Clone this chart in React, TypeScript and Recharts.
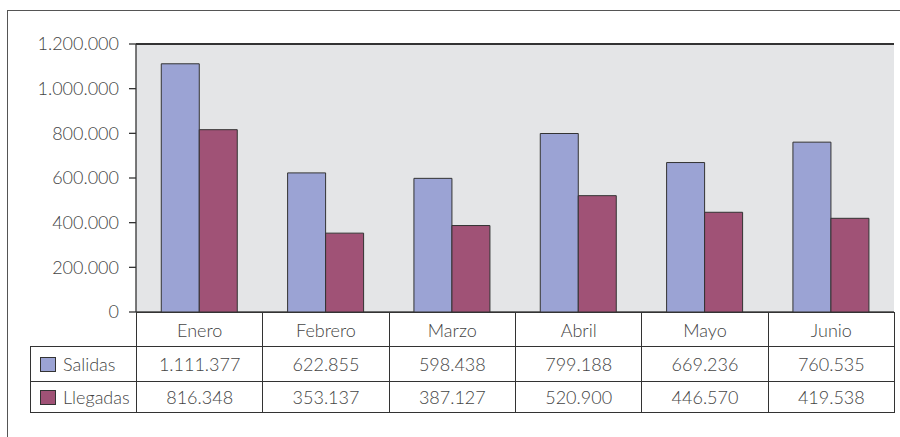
import { Bar, BarChart, CartesianGrid, XAxis, YAxis } from 'recharts'

const meses = ['Enero', 'Febrero', 'Marzo', 'Abril', 'Mayo', 'Junio']
const salidas = [1111377, 622855, 598438, 799188, 669236, 760535]
const llegadas = [816348, 353137, 387127, 520900, 446570, 419538]
const yTicks = [0, 200000, 400000, 600000, 800000, 1000000, 1200000]

const series = [
  { key: 'salidas', label: 'Salidas', color: '#9BA3D4', values: salidas },
  { key: 'llegadas', label: 'Llegadas', color: '#A05276', values: llegadas },
]

const fmt = (v: number) => String(Math.round(v)).replace(/\B(?=(\d{3})+(?!\d))/g, '.')

const FONT = 'Lato, "Open Sans", sans-serif'
const FONT_SIZE = 18
const FONT_WEIGHT = 300
const TEXT = '#444'
const LINE = '#333'

// plot area in page pixels
const PLOT_L = 136
const PLOT_R = 894
const PLOT_T = 44
const PLOT_B = 312
const COL_W = (PLOT_R - PLOT_L) / meses.length
const ROW_TOPS = [312, 346, 381, 412]

export default function App() {
  const data = meses.map((mes, i) => ({ mes, salidas: salidas[i], llegadas: llegadas[i] }))

  const cell = (left: number, top: number, width: number, height: number, extra = {}) => ({
    position: 'absolute' as const,
    left,
    top,
    width,
    height,
    boxSizing: 'border-box' as const,
    display: 'flex',
    alignItems: 'center',
    justifyContent: 'center',
    fontFamily: FONT,
    fontSize: FONT_SIZE,
    fontWeight: FONT_WEIGHT,
    color: TEXT,
    ...extra,
  })

  return (
    <div
      style={{
        position: 'fixed',
        left: 0,
        top: 0,
        width: 900,
        height: 437,
        overflow: 'hidden',
        background: '#fff',
      }}
    >
      <div
        style={{
          position: 'absolute',
          left: 7,
          top: 10,
          width: 920,
          height: 460,
          border: '1.5px solid #555',
          boxSizing: 'border-box',
        }}
      />
      <div style={{ position: 'absolute', left: 0, top: 0 }}>
        <BarChart
          width={900}
          height={437}
          data={data}
          margin={{ top: PLOT_T, right: 900 - PLOT_R, bottom: 437 - PLOT_B, left: PLOT_L - 110 }}
          barCategoryGap="20%"
          barGap={0}
        >
          <CartesianGrid vertical={false} fill="#E4E5E7" stroke="#444" strokeWidth={1.3} />
          <XAxis dataKey="mes" hide />
          <YAxis
            yAxisId="left"
            width={110}
            domain={[0, 1200000]}
            ticks={yTicks}
            interval={0}
            tickFormatter={fmt}
            tickSize={7}
            tickMargin={10}
            axisLine={{ stroke: LINE, strokeWidth: 1.3 }}
            tickLine={{ stroke: LINE, strokeWidth: 1.3 }}
            tick={{ fill: TEXT, fontSize: FONT_SIZE, fontFamily: FONT, fontWeight: FONT_WEIGHT }}
          />
          <YAxis
            yAxisId="right"
            orientation="right"
            width={0}
            tick={false}
            tickLine={false}
            axisLine={{ stroke: '#888', strokeWidth: 1.5 }}
          />
          {series.map((s) => (
            <Bar
              key={s.key}
              yAxisId="left"
              dataKey={s.key}
              fill={s.color}
              stroke={LINE}
              strokeWidth={1}
              isAnimationActive={false}
            />
          ))}
        </BarChart>
      </div>

      {/* top border of plot */}
      <div
        style={{
          position: 'absolute',
          left: PLOT_L,
          top: PLOT_T - 1,
          width: PLOT_R - PLOT_L,
          height: 2,
          background: LINE,
        }}
      />

      {/* data table */}
      {meses.map((m, i) => (
        <div
          key={m}
          style={cell(PLOT_L + i * COL_W, ROW_TOPS[0], COL_W + 1, ROW_TOPS[1] - ROW_TOPS[0] + 1, {
            border: `1.3px solid ${LINE}`,
          })}
        >
          {m}
        </div>
      ))}
      {series.map((s, r) => (
        <div key={s.key}>
          <div
            style={cell(30, ROW_TOPS[r + 1], PLOT_L - 30 + 1, ROW_TOPS[r + 2] - ROW_TOPS[r + 1] + 1, {
              border: `1.3px solid ${LINE}`,
              justifyContent: 'flex-start',
              paddingLeft: 9,
            })}
          >
            <span
              style={{
                display: 'inline-block',
                width: 14,
                height: 13,
                background: s.color,
                border: `1.3px solid ${LINE}`,
                marginRight: 7,
              }}
            />
            {s.label}
          </div>
          {s.values.map((v, i) => (
            <div
              key={i}
              style={cell(PLOT_L + i * COL_W, ROW_TOPS[r + 1], COL_W + 1, ROW_TOPS[r + 2] - ROW_TOPS[r + 1] + 1, {
                border: `1.3px solid ${LINE}`,
              })}
            >
              {fmt(v)}
            </div>
          ))}
        </div>
      ))}
    </div>
  )
}
